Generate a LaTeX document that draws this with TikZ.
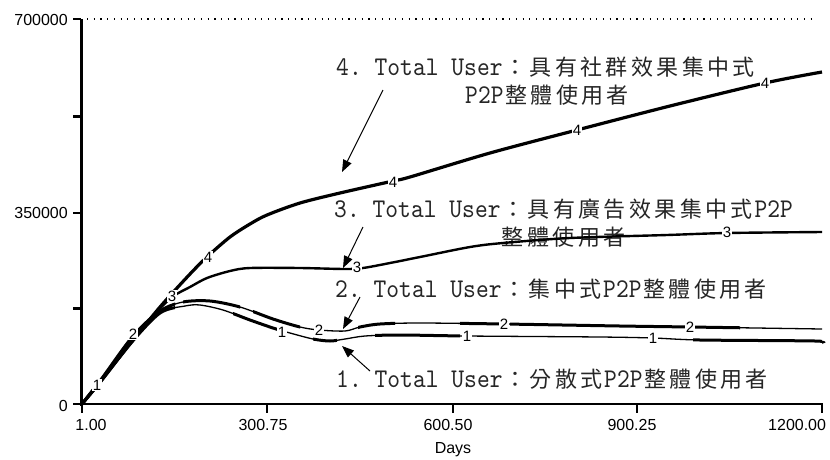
\documentclass[tikz,border=0pt]{standalone}
\usepackage{fontspec}
\usetikzlibrary{arrows.meta}

% Fonts: typewriter serif Latin, CJK, and a sans for the axes
\newfontfamily\latinfont{lmmono10-regular}[Extension=.otf, FakeStretch=0.9]
\newfontfamily\cjkfont{Noto Sans CJK TC}
\newfontfamily\axisfont{Liberation Sans}

% Fixed-pitch setting: every half-width or full-width character gets its own cell
\newlength\hwpitch \setlength\hwpitch{12.8pt}
\newlength\fwpitch \setlength\fwpitch{25.4pt}
\def\hwloop#1{\ifx\relax#1\else\makebox[\hwpitch][c]{#1}\expandafter\hwloop\fi}
\def\fwloop#1{\ifx\relax#1\else\makebox[\fwpitch][c]{#1}\expandafter\fwloop\fi}
\newcommand\hw[1]{{\latinfont\fontsize{27pt}{30pt}\selectfont\hwloop#1\relax}}
\newcommand\fw[1]{{\cjkfont\fontsize{22pt}{26pt}\selectfont\fwloop#1\relax}}

% The four simulated runs (x in days mapped to pt, y downwards)
\def\curveone{plot[smooth] coordinates {(82,404) (97,385) (130,344) (160,313) (185,306) (200,305) (223,310) (250,320) (273,328) (290,333) (313,339) (330,341) (345,339) (365,336) (400,335) (467,336) (600,337) (653,338) (700,340) (815,341) (822,343)}}
\def\curvetwo{plot[smooth] coordinates {(82,404) (100,381) (133,336) (160,311) (183,302) (210,301) (240,307) (273,319) (300,327) (319,330) (345,331) (360,327) (380,324) (420,323) (504,324) (620,326) (690,327) (822,329)}}
\def\curvethree{plot[smooth] coordinates {(82,404) (100,383) (130,344) (155,314) (172,297) (190,287) (207,278) (230,271) (250,268) (300,268) (345,269) (363,268) (390,263) (420,257) (470,247) (503,243) (570,238) (667,235) (727,233) (822,232)}}
\def\curvefour{plot[smooth] coordinates {(82,404) (100,382) (130,344) (160,307) (190,274) (208,256) (230,237) (250,224) (267,215) (300,203) (340,193) (393,181) (410,177) (490,153) (577,130) (670,106) (765,83) (822,72)}}

% heavier stretch of a run between two x positions
\newcommand\heavy[3]{\begin{scope}\clip (#2,0) rectangle (#3,459);
  \draw[line width=3pt, line join=round] #1;\end{scope}}

\begin{document}
\begin{tikzpicture}[x=1pt,y=-1pt,
  lbl/.style={inner sep=0pt, anchor=base west, text=black!85},
  tickmark/.style={line width=2.4pt},
  axlbl/.style={font=\axisfont\fontsize{16pt}{18pt}\selectfont, inner sep=0pt},
  mk/.style={font=\axisfont\fontsize{15pt}{17pt}\selectfont, fill=white, inner sep=0.6pt},
  callout/.style={line width=1pt, -{Triangle[length=12pt,width=9pt]}},
  run/.style={line join=round}]
\fill[white] (0,0) rectangle (830,459);
\useasboundingbox (0,0) rectangle (830,459);

% axes
\draw[line width=1.2pt, dash pattern=on 1.2pt off 5.5pt] (87,19) -- (816,19);
\draw[line width=3pt] (81,19) -- (81,405.5);
\draw[line width=2.8pt] (80,404) -- (823,404);
\foreach \y in {19,116.5,213,308.5,404} \draw[tickmark] (73,\y) -- (81,\y);
\foreach \x in {82,267,453,637,822} \draw[tickmark] (\x,404) -- (\x,413);

\node[axlbl, anchor=east] (y700) at (68,20) {700000};
\node[axlbl, anchor=east] (y350) at (68,213) {350000};
\node[axlbl, anchor=east] (y0) at (68,406) {0};
\node[axlbl] (x1) at (91,425) {1.00};
\node[axlbl] (x2) at (263,425) {300.75};
\node[axlbl] (x3) at (448,425) {600.50};
\node[axlbl] (x4) at (632,425) {900.25};
\node[axlbl, anchor=west] (x5) at (768,425) {1200.00};
\node[axlbl, anchor=base] (days) at (453,453) {Days};

% run labels
\node[lbl] (t4a) at (336,75) {\hw{4.~Total~User}\fw{：具有社群效果集中式}};
\node[lbl] (t4b) at (465,103) {\hw{P2P}\fw{整體使用者}};
\node[lbl] (t3a) at (334,217) {\hw{3.~Total~User}\fw{：具有廣告效果集中式}\hw{P2P}};
\node[lbl] (t3b) at (500,245) {\fw{整體使用者}};
\node[lbl] (t2a) at (335,297) {\hw{2.~Total~User}\fw{：集中式}\hw{P2P}\fw{整體使用者}};
\node[lbl] (t1a) at (336,387) {\hw{1.~Total~User}\fw{：分散式}\hw{P2P}\fw{整體使用者}};

% runs
\draw[run, line width=3.2pt] \curvefour;
\draw[run, line width=2.4pt] \curvethree;
\draw[run, line width=1.3pt] \curvetwo;
\draw[run, line width=1.3pt] \curveone;
\heavy{\curvetwo}{82}{175}
\heavy{\curvetwo}{183}{240}
\heavy{\curvetwo}{253}{300}
\heavy{\curvetwo}{358}{395}
\heavy{\curvetwo}{460}{500}
\heavy{\curvetwo}{510}{740}
\heavy{\curveone}{82}{175}
\heavy{\curveone}{233}{280}
\heavy{\curveone}{313}{337}
\heavy{\curveone}{375}{460}
\heavy{\curveone}{693}{822}

% run markers
\node[mk] (m4a) at (208,257) {4};
\node[mk] (m4b) at (393,182) {4};
\node[mk] (m4c) at (577,130) {4};
\node[mk] (m4d) at (765,83) {4};
\node[mk] (m3a) at (172,296) {3};
\node[mk] (m3b) at (357,267) {3};
\node[mk] (m3c) at (727,232) {3};
\node[mk] (m2a) at (133,334) {2};
\node[mk] (m2b) at (319,330) {2};
\node[mk] (m2c) at (504,324) {2};
\node[mk] (m2d) at (690,327) {2};
\node[mk] (m1a) at (97,385) {1};
\node[mk] (m1b) at (282,332) {1};
\node[mk] (m1c) at (467,336) {1};
\node[mk] (m1d) at (653,338) {1};

% callouts
\coordinate (a4s) at (383,90);  \coordinate (a4e) at (342,172);
\coordinate (a3s) at (363,227); \coordinate (a3e) at (343,268);
\coordinate (a2s) at (360,297); \coordinate (a2e) at (343,329);
\coordinate (a1s) at (370,371); \coordinate (a1e) at (342,346);
\draw[callout] (a4s) -- (a4e);
\draw[callout] (a3s) -- (a3e);
\draw[callout] (a2s) -- (a2e);
\draw[callout] (a1s) -- (a1e);
\end{tikzpicture}
\end{document}
